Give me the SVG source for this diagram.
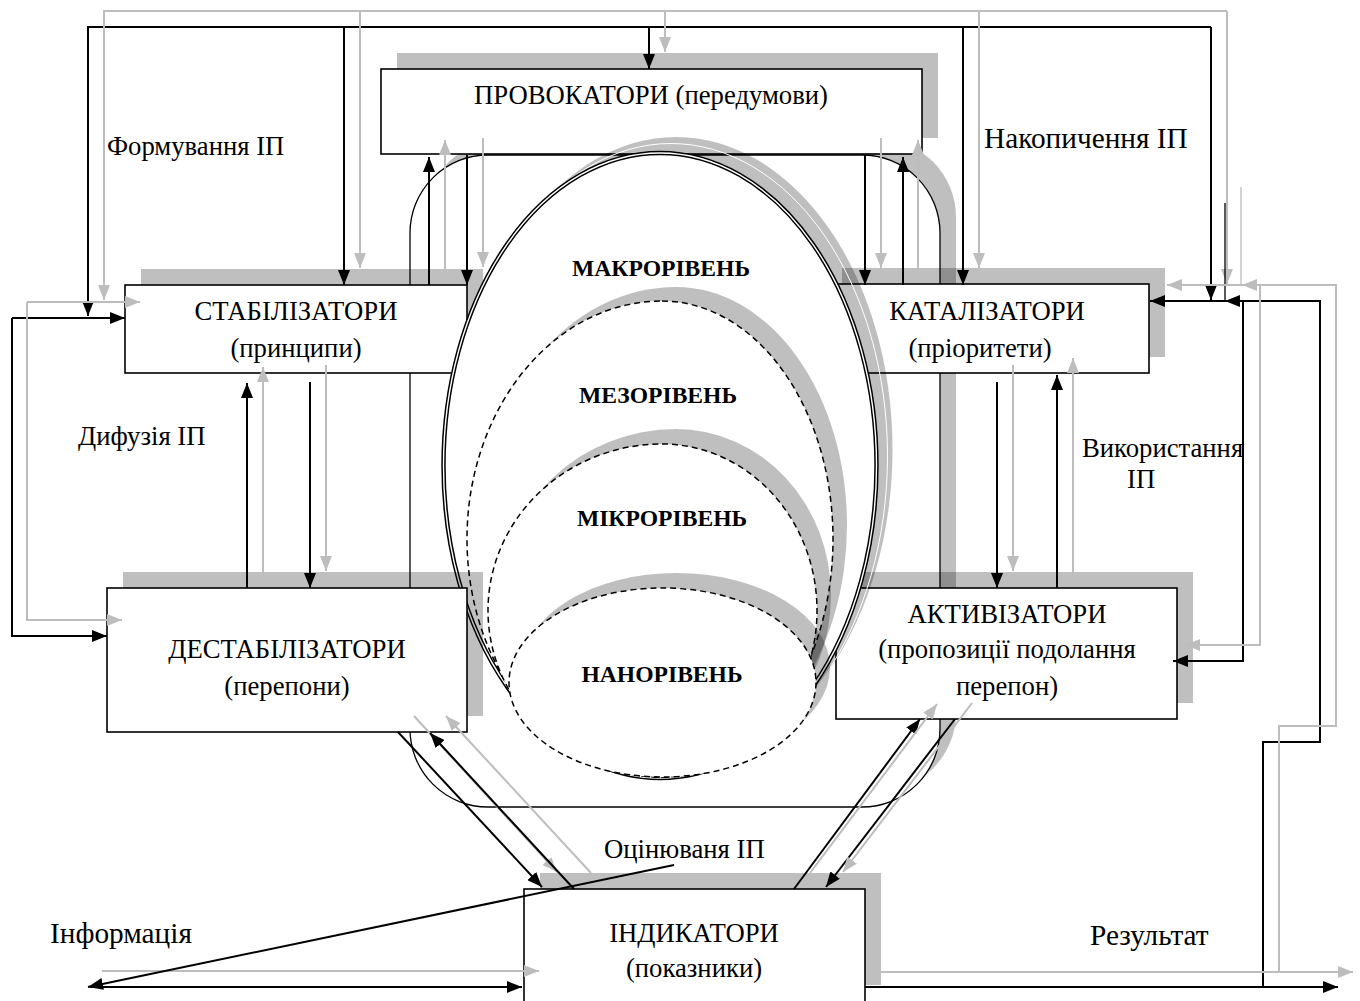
<svg xmlns="http://www.w3.org/2000/svg" width="1360" height="1001" viewBox="0 0 1360 1001">
<style>
 .box{fill:#fff;stroke:#000;stroke-width:1.6}
 .sh{fill:#000;fill-opacity:0.25;stroke:none}
 .b{fill:none;stroke:#000;stroke-width:2}
 .bt{fill:none;stroke:#000;stroke-width:1.3}
 .g{fill:none;stroke:#bdbdbd;stroke-width:2}
 .gt{fill:none;stroke:#bdbdbd;stroke-width:1.3}
 .ba{marker-end:url(#ab)}
 .ga{marker-end:url(#ag)}
 text{font-family:'Liberation Serif','Times New Roman',serif;font-size:26.7px;fill:#000}
 .c{text-anchor:middle}
 .big{font-size:29.3px}
 .lv{font-weight:bold;font-size:23.6px}
 .dash{fill:#fff;stroke:#000;stroke-width:1.5;stroke-dasharray:6 4}
</style>
<defs>
 <marker id="ab" markerUnits="userSpaceOnUse" markerWidth="15" markerHeight="12" refX="15" refY="6" orient="auto"><path d="M0,0 L15,6 L0,12 z" fill="#000"/></marker>
 <marker id="ag" markerUnits="userSpaceOnUse" markerWidth="15" markerHeight="12" refX="15" refY="6" orient="auto"><path d="M0,0 L15,6 L0,12 z" fill="#bdbdbd"/></marker>
</defs>
<rect x="0" y="0" width="1360" height="1001" fill="#fff"/>

<g id="frame">
 <rect class="sh" x="426" y="139" width="530" height="652" rx="78"/>
 <rect x="410" y="155" width="530" height="652" rx="78" fill="#fff" stroke="#000" stroke-width="1.3"/>
</g>

<g id="n-provokatory">
 <rect class="sh" x="397" y="53" width="541" height="85"/>
 <rect class="box" x="381" y="69" width="541" height="85"/>
</g>
<g id="n-stab">
 <rect class="sh" x="141" y="269" width="342" height="88"/>
 <rect class="box" x="125" y="285" width="342" height="88"/>
</g>
<g id="n-katal">
 <rect class="sh" x="842" y="268" width="323" height="89"/>
 <rect class="box" x="826" y="284" width="323" height="89"/>
</g>
<g id="n-aktyv">
 <rect class="sh" x="852" y="572" width="341" height="131"/>
 <rect class="box" x="836" y="588" width="341" height="131"/>
</g>
<g id="n-indyk">
 <rect class="sh" x="540" y="873" width="341" height="112"/>
 <rect class="box" x="524" y="889" width="341" height="114"/>
</g>

<g id="n-levels">
 <ellipse class="sh" cx="676" cy="449.5" rx="216.5" ry="312.5"/>
 <ellipse cx="671" cy="456" rx="216.5" ry="312.5" fill="none" stroke="#fff" stroke-width="1"/>
 <ellipse cx="660" cy="465.5" rx="216.5" ry="312.5" fill="#fff" stroke="#000" stroke-width="4.4"/>
 <ellipse cx="660" cy="465.5" rx="216.5" ry="312.5" fill="none" stroke="#fff" stroke-width="1.4"/>
 <path class="sh" transform="translate(14,-14)" d="M662,301 A171,238 0 0 1 833,539 A171,238 0 0 1 662,777 A195,238 0 0 1 467,539 A195,238 0 0 1 662,301 Z"/>
 <path class="dash" d="M662,301 A171,238 0 0 1 833,539 A171,238 0 0 1 662,777 A195,238 0 0 1 467,539 A195,238 0 0 1 662,301 Z"/>
 <path class="sh" transform="translate(14,-15)" d="M662,444 A155,166.5 0 0 1 817,610.5 A155,166.5 0 0 1 662,777 A174,166.5 0 0 1 488,610.5 A174,166.5 0 0 1 662,444 Z"/>
 <path class="dash" d="M662,444 A155,166.5 0 0 1 817,610.5 A155,166.5 0 0 1 662,777 A174,166.5 0 0 1 488,610.5 A174,166.5 0 0 1 662,444 Z"/>
 <ellipse class="sh" cx="676.5" cy="667.5" rx="153.5" ry="94.5"/>
 <ellipse class="dash" cx="662.5" cy="682.5" rx="153.5" ry="94.5"/>
</g>

<g id="n-destab">
 <rect class="sh" x="123" y="572" width="360" height="144"/>
 <rect class="box" x="107" y="588" width="360" height="144"/>
</g>

<g id="connectors">
 <path class="b ba" d="M1211,27 H88 V316"/>
 <path class="b ba" d="M1211,27 V300"/>
 <path class="b ba" d="M344,27 V285"/>
 <path class="b ba" d="M649,27 V69"/>
 <path class="b ba" d="M963,27 V285"/>
 <path class="g ga" d="M1227,11 H104 V300"/>
 <path class="g ga" d="M1227,11 V284"/>
 <path class="g ga" d="M360,11 V268"/>
 <path class="g ga" d="M665,11 V52"/>
 <path class="g ga" d="M979,11 V268"/>
 <path class="b ba" d="M12,318 H125"/>
 <path class="b ba" d="M12,318 V636 H107"/>
 <path class="g ga" d="M27,302 H140"/>
 <path class="g ga" d="M27,302 V620 H122"/>
 <path class="b ba" d="M247,588 V383"/>
 <path class="g ga" d="M263,573 V367"/>
 <path class="b ba" d="M310,382 V588"/>
 <path class="g ga" d="M326,365 V571"/>
 <path class="b ba" d="M429,285 V157"/>
 <path class="g ga" d="M445,270 V140"/>
 <path class="b ba" d="M467,155 V285"/>
 <path class="g ga" d="M483,138 V267"/>
 <path class="b ba" d="M865,155 V285"/>
 <path class="g ga" d="M881,138 V268"/>
 <path class="b ba" d="M903,285 V157"/>
 <path class="g ga" d="M918,270 V140"/>
 <path class="b ba" d="M997,382 V588"/>
 <path class="g ga" d="M1013,365 V571"/>
 <path class="b ba" d="M1057,588 V375"/>
 <path class="g ga" d="M1073,573 V358"/>
 <path class="b ba" d="M1263,987 V742 H1320 V301 H1150"/>
 <path class="b ba" d="M1246,301 H1225"/>
 <path class="b ba" d="M1243,301 V661 H1173"/>
 <path class="bt" d="M1225,203 V301"/>
 <path class="g ga" d="M1279,972 V726 H1336 V285 H1167"/>
 <path class="g ga" d="M1262,285 H1242"/>
 <path class="g ga" d="M1260,285 V645 H1185"/>
 <path class="gt" d="M1241,187 V285"/>
 <path class="b ba" d="M865,987 H1338"/>
 <path class="g ga" d="M881,972 H1353"/>
 <path class="b ba" d="M90,987 H522"/>
 <path class="g ga" d="M102,971 H539"/>
 <path class="b ba" d="M674,865 L88,987"/>
 <path class="b ba" d="M398,732 L542,887"/>
 <path class="g ga" d="M414,716 L557,872"/>
 <path class="b ba" d="M574,889 L430,733"/>
 <path class="g ga" d="M591,873 L446,716"/>
 <path class="b ba" d="M794,889 L920,719"/>
 <path class="g ga" d="M810,873 L937,704"/>
 <path class="b ba" d="M955,719 L826,887"/>
 <path class="g ga" d="M972,703 L843,872"/>
</g>

<g id="labels">
 <text class="c" x="651" y="104">ПРОВОКАТОРИ (передумови)</text>
 <text class="c" x="296" y="320">СТАБІЛІЗАТОРИ</text>
 <text class="c" x="296" y="357">(принципи)</text>
 <text class="c" x="287" y="658">ДЕСТАБІЛІЗАТОРИ</text>
 <text class="c" x="287" y="695">(перепони)</text>
 <text class="c" x="987" y="320">КАТАЛІЗАТОРИ</text>
 <text class="c" x="980" y="357">(пріоритети)</text>
 <text class="c" x="1007" y="623">АКТИВІЗАТОРИ</text>
 <text class="c" x="1007" y="658">(пропозиції подолання</text>
 <text class="c" x="1007" y="695">перепон)</text>
 <text class="c" x="694" y="942">ІНДИКАТОРИ</text>
 <text class="c" x="694" y="977">(показники)</text>
 <text class="c lv" x="661" y="276">МАКРОРІВЕНЬ</text>
 <text class="c lv" x="658" y="403">МЕЗОРІВЕНЬ</text>
 <text class="c lv" x="662" y="526">МІКРОРІВЕНЬ</text>
 <text class="c lv" x="662" y="682">НАНОРІВЕНЬ</text>
 <text x="107" y="155">Формування ІП</text>
 <text class="big" x="984" y="148">Накопичення ІП</text>
 <text x="78" y="445">Дифузія ІП</text>
 <text x="1082" y="457">Використання</text>
 <text x="1127" y="488">ІП</text>
 <text x="604" y="858">Оцінюваня ІП</text>
 <text class="big" x="50" y="943">Інформація</text>
 <text class="big" x="1090" y="945">Результат</text>
</g>
</svg>
